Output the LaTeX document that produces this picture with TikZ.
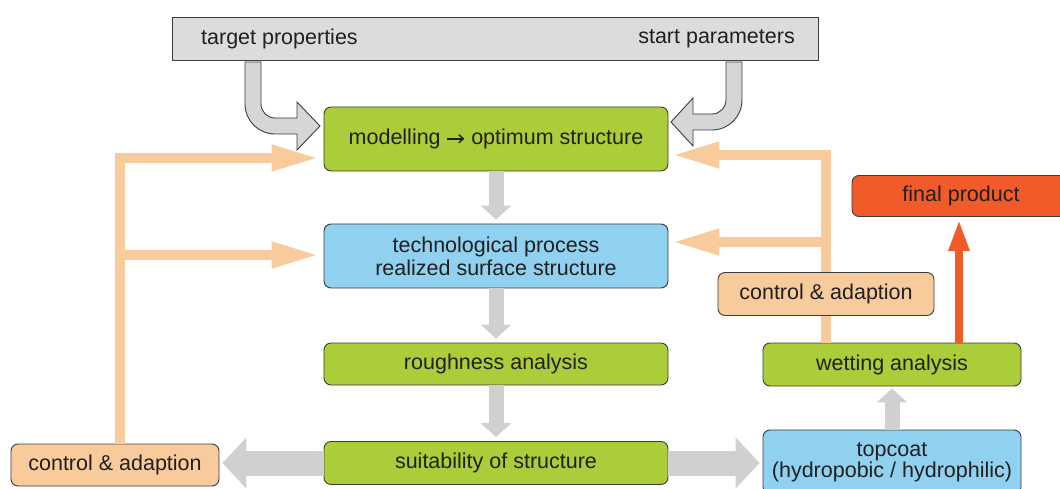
\documentclass[tikz,border=0pt]{standalone}
\usepackage{fontspec}
\setmainfont{Liberation Sans}
\usetikzlibrary{arrows.meta}
\definecolor{boxgreen}{HTML}{ABCD3A}
\definecolor{boxblue}{HTML}{8FD1EF}
\definecolor{boxpeach}{HTML}{F7CB9B}
\definecolor{boxred}{HTML}{F15A29}
\definecolor{topgray}{HTML}{DCDCDC}
\definecolor{curvegray}{HTML}{D6D6D6}
\definecolor{blockgray}{HTML}{D0D0D0}
\definecolor{edge}{HTML}{3C3C3C}
\definecolor{ink}{HTML}{231F20}
% small inline arrow used inside the modelling label
\newcommand{\flowarrow}{\tikz[baseline=-5.8pt]\draw[ink, line width=1.5pt,
  -{Straight Barb[length=4.5pt,width=8pt]}] (0pt,0pt) -- (17pt,0pt);}

\begin{document}
\begin{tikzpicture}[x=1pt,y=-1pt,
  box/.style={draw=edge, line width=0.9pt, rounded corners=7pt, inner sep=0pt,
    align=center, text=ink, font=\fontsize{21.5}{24}\selectfont},
  label/.style={inner sep=0pt, text=ink, font=\fontsize{21.5}{24}\selectfont},
  greenbox/.style={box, fill=boxgreen},
  bluebox/.style={box, fill=boxblue},
  peachbox/.style={box, fill=boxpeach},
  feedback/.style={draw=boxpeach, line width=10pt, line join=miter,
    -{Triangle[length=48pt,width=24pt]}},
  flowv/.style={draw=blockgray, line width=15pt, -{Triangle[length=14pt,width=30pt]}},
  flowh/.style={draw=blockgray, line width=25pt, -{Triangle[length=24pt,width=50pt]}},
  curved/.style={draw=edge, line width=0.9pt, fill=curvegray, line join=miter},
]
\useasboundingbox (0,0) rectangle (1060,489);

% nodes
\node[draw=edge, line width=0.9pt, fill=topgray, minimum width=646pt, minimum height=43pt,
  inner sep=0pt] (inputs) at (495,38.5) {};
\node[label, anchor=west] (target) at (201,39) {target properties};
\node[label, anchor=east] (start) at (795,39) {start parameters};

\node[greenbox, minimum width=344pt, minimum height=64pt] (model) at (496,139)
  {modelling \flowarrow{} optimum structure};
\node[bluebox, minimum width=344pt, minimum height=64pt] (tech) at (496,256)
  {technological process\\[-1pt]realized surface structure};
\node[greenbox, minimum width=344pt, minimum height=42pt] (rough) at (496,364)
  {roughness analysis};
\node[greenbox, minimum width=344pt, minimum height=43pt] (suit) at (496,463)
  {suitability of structure};
\node[peachbox, minimum width=208pt, minimum height=42pt] (ctlL) at (115,465)
  {control \& adaption};
\node[bluebox, minimum width=258pt, minimum height=64pt] (top) at (892,462)
  {topcoat\\[-3pt](hydropobic / hydrophilic)};
\node[greenbox, minimum width=258pt, minimum height=43pt] (wet) at (892,364.5)
  {wetting analysis};

% feedback lines (behind the boxes they start from)
\coordinate (lbend) at (120,158);
\coordinate (lmid) at (120,255);
\draw[feedback, shorten >=4pt] (ctlL.north -| lbend) -- (lbend) -- (lbend -| model.west);
\draw[feedback, shorten >=4pt] (lmid) -- (lmid -| tech.west);
\coordinate (rbend) at (826,155);
\coordinate (rmid) at (826,242);
\draw[feedback, shorten >=3pt] (wet.north -| rbend) -- (rbend) -- (rbend -| model.east);
\draw[feedback, shorten >=3pt] (rmid) -- (rmid -| tech.east);

\node[peachbox, minimum width=216pt, minimum height=43pt] (ctlR) at (826,294)
  {control \& adaption};
\node[box, fill=boxred, minimum width=218pt, minimum height=41pt] (final) at (961,196)
  {final product};

% main flow
\draw[flowv, shorten >=4pt] (model.south) -- (tech.north);
\draw[flowv, shorten >=4pt] (tech.south) -- (rough.north);
\draw[flowv, shorten >=4pt] (rough.south) -- (suit.north);
\draw[flowh, shorten >=3pt] (suit.west) -- (suit.west -| ctlL.east);
\draw[flowh, shorten >=3pt] (suit.east) -- (suit.east -| top.west);
\draw[flowv, shorten >=2pt] (top.north) -- (wet.south);

% result
\coordinate (res) at (959,0);
\draw[draw=boxred, line width=8.5pt, -{Triangle[length=32pt,width=19pt]}, shorten >=2pt]
  (wet.north -| res) -- (final.south -| res);

% bent input arrows
\draw[curved] (245,62) -- (245,104) .. controls (245,120.6) and (258.4,134) .. (275,134)
  -- (297,134) -- (297,150) -- (320,126) -- (297,102) -- (297,118) -- (275,118)
  .. controls (267.3,118) and (261,111.7) .. (261,104) -- (261,62) -- cycle;
\draw[curved] (742,62) -- (742,100) .. controls (742,116.6) and (728.6,130) .. (712,130)
  -- (693,130) -- (693,146) -- (671,122) -- (693,98) -- (693,114) -- (712,114)
  .. controls (719.7,114) and (726,107.7) .. (726,100) -- (726,62) -- cycle;
\end{tikzpicture}
\end{document}
